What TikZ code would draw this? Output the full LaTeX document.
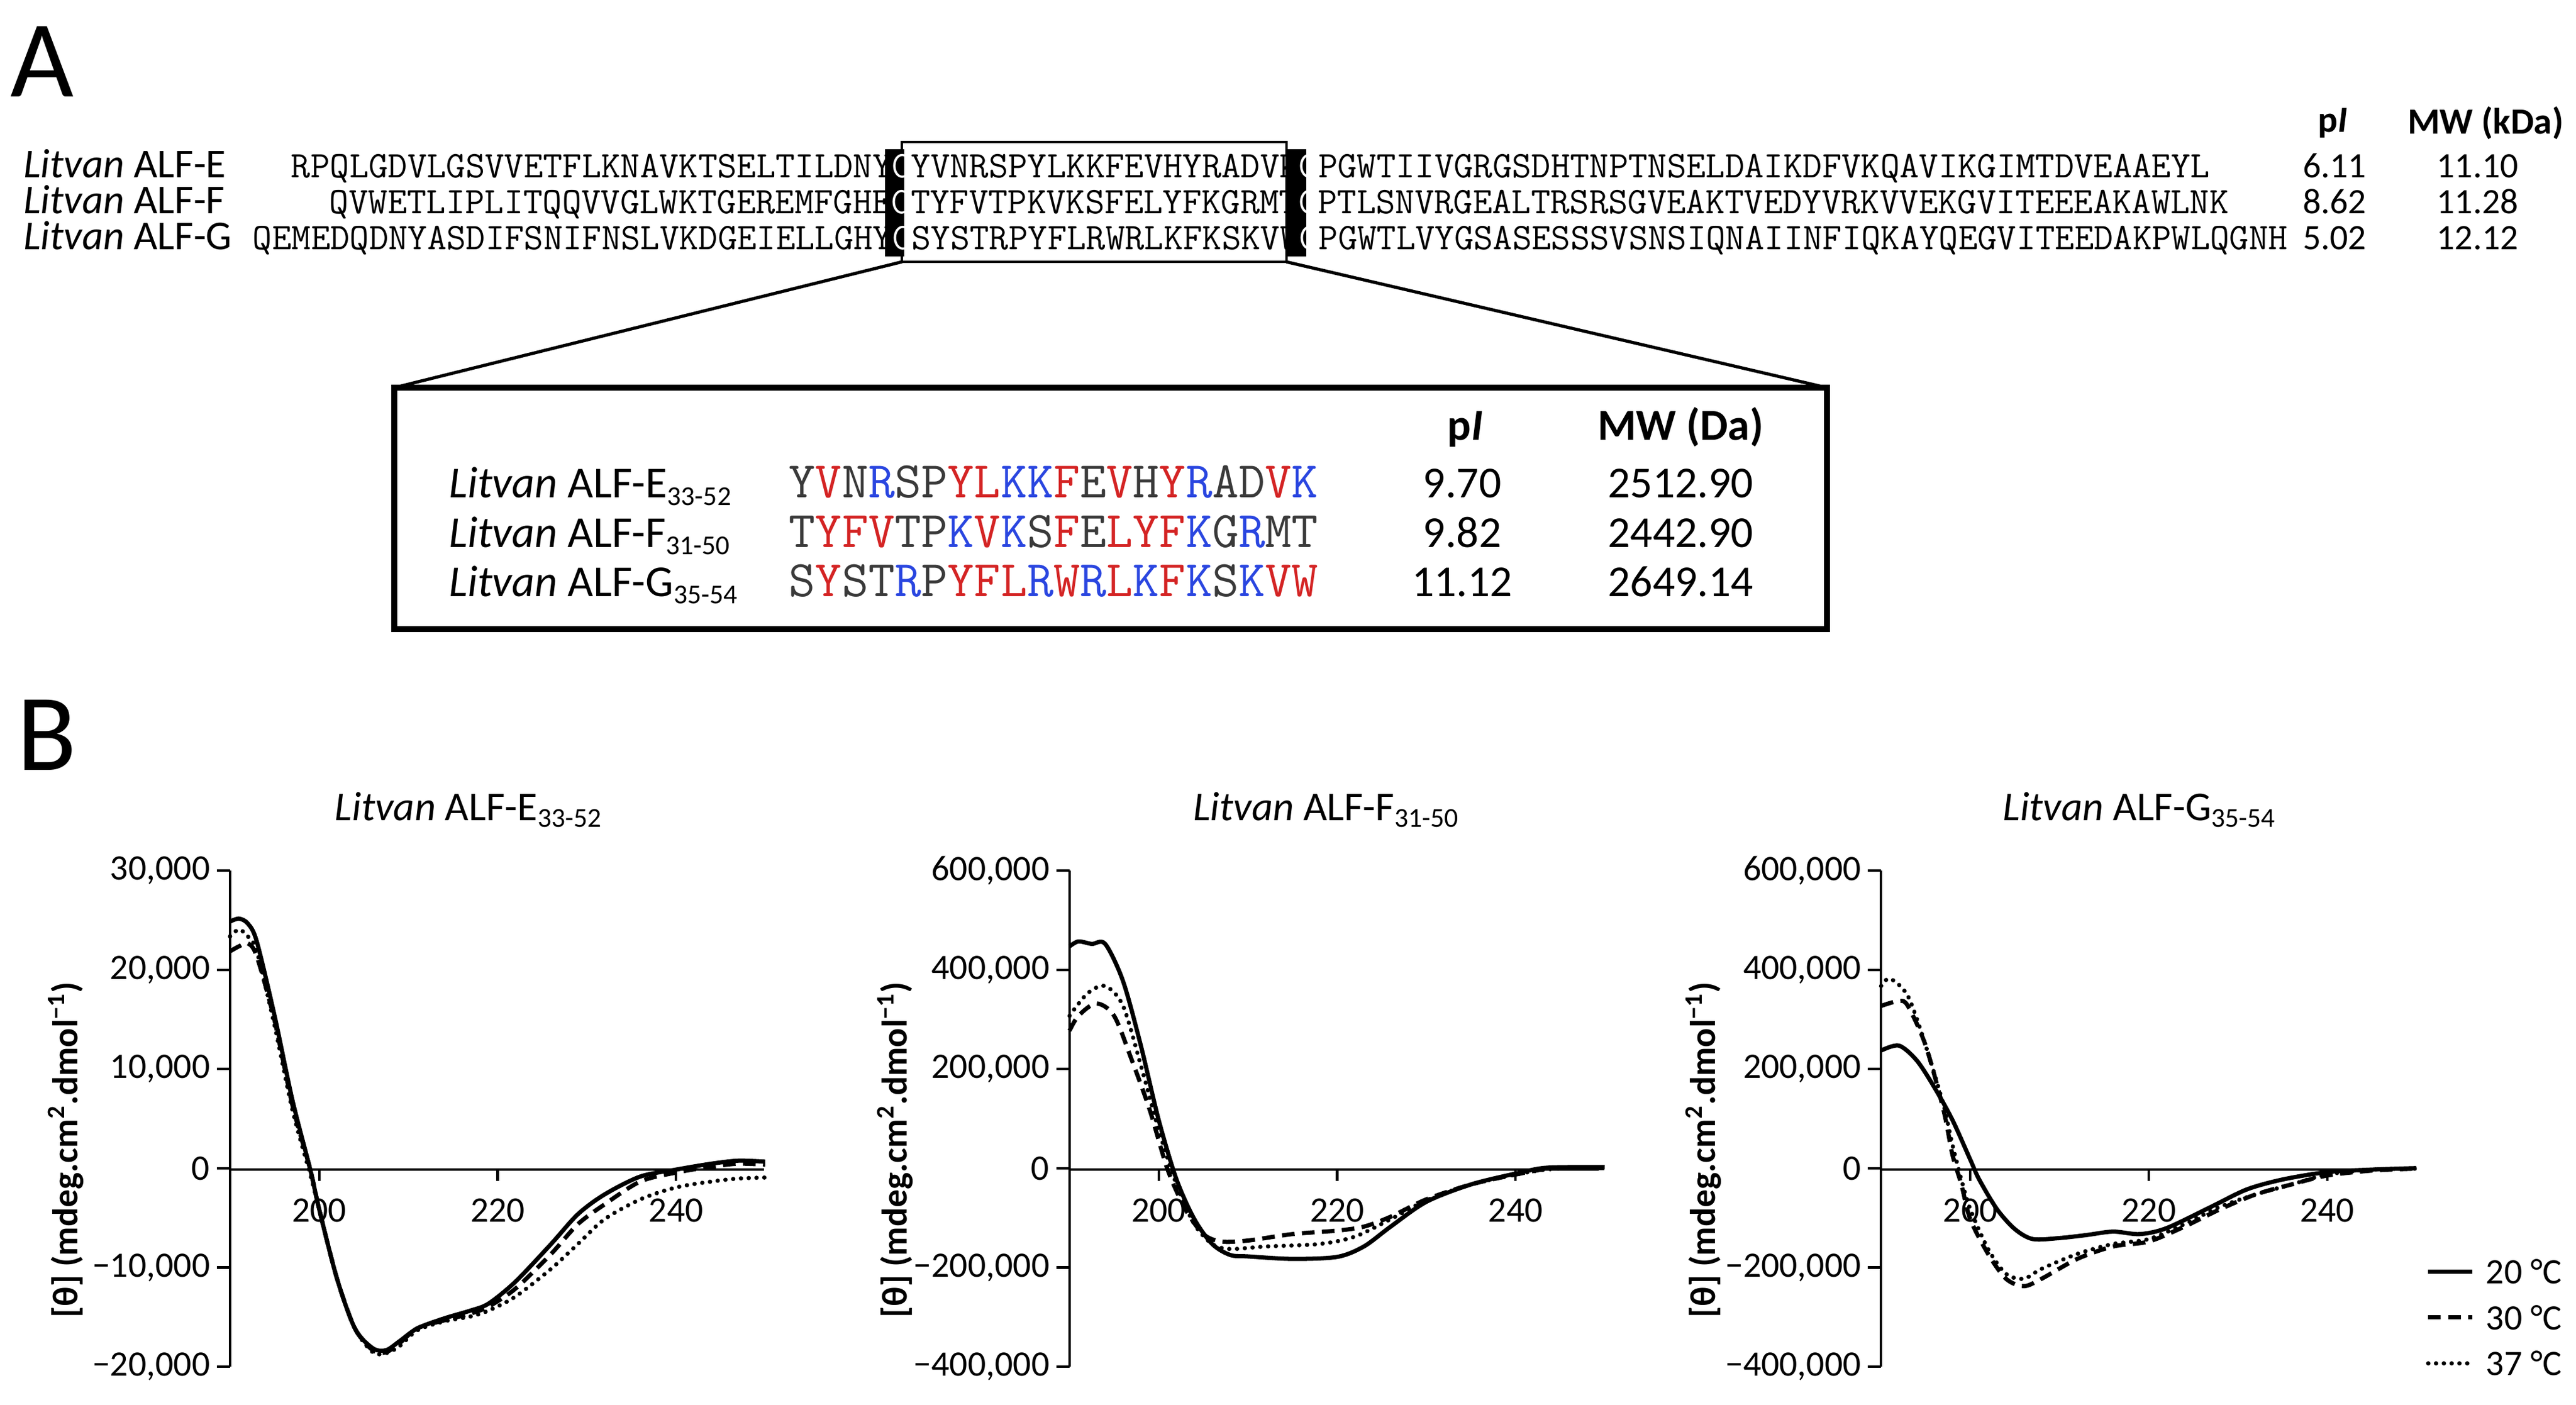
\documentclass[tikz,border=0pt]{standalone}
\usepackage{fontspec}
\setmainfont{Carlito}
\definecolor{sred}{HTML}{D42424}
\definecolor{sblue}{HTML}{2A46E0}
\definecolor{sgrey}{HTML}{3A3A3A}
\newcommand\sbx[2]{\raisebox{-0.35ex}{\fontsize{#1}{#1}\selectfont #2}}
\newcommand\Rd[1]{\textcolor{sred}{#1}}
\newcommand\Bl[1]{\textcolor{sblue}{#1}}
\newcommand\Wc{\textcolor{white}{C}}
\newcommand\ylab{\textbf{[θ] (mdeg.cm\textsuperscript{2}.dmol\textsuperscript{−1})}}
\begin{document}
\begin{tikzpicture}[x=0.027417cm,y=-0.027417cm,
  lbl/.style={inner sep=0,font=\fontsize{17.5}{18}\selectfont},
  seql/.style={inner sep=0,anchor=base west,font=\fontsize{19.5}{20}\selectfont},
  seq/.style={inner sep=0,anchor=base west,font=\ttfamily\fontsize{17.87}{18}\selectfont},
  iseq/.style={inner sep=0,anchor=base west,font=\ttfamily\fontsize{24.4}{25}\selectfont,text=sgrey},
  ilbl/.style={inner sep=0,anchor=base west,font=\fontsize{21}{22}\selectfont},
  ival/.style={inner sep=0,anchor=base,font=\fontsize{21}{22}\selectfont},
  val/.style={inner sep=0,anchor=base,font=\fontsize{17}{18}\selectfont},
  tick/.style={inner sep=0,font=\fontsize{17}{18}\selectfont},
  axisl/.style={line width=1.2pt},
  cs/.style={line width=2pt},
  cd/.style={line width=2pt,dash pattern=on 6pt off 3.5pt},
  ct/.style={line width=2pt,dash pattern=on 0.1pt off 3.6pt,line cap=round},
  ttl/.style={inner sep=0,font=\fontsize{19.5}{20}\selectfont}]
\useasboundingbox (0,0) rectangle (1568,855);
% panel letters
\node[inner sep=0,anchor=north west,font=\fontsize{52}{52}\selectfont] (A) at (6,16) {A};
\node[inner sep=0,anchor=north west,font=\fontsize{52}{52}\selectfont] (B) at (10,426) {B};
% alignment
\draw[fill=white,line width=1pt] (549,86.5) rectangle (783,159.4);
\fill (538.8,91) rectangle (550.5,156);
\fill (783.4,91) rectangle (795.1,156);
\node[seql] (le) at (14,108) {\textit{Litvan} ALF-E};
\node[seql] (lf) at (14,130) {\textit{Litvan} ALF-F};
\node[seql] (lg) at (14,152) {\textit{Litvan} ALF-G};
\node[seq] (se) at (177,108) {RPQLGDVLGSVVETFLKNAVKTSELTILDNY\Wc YVNRSPYLKKFEVHYRADVK\Wc PGWTIIVGRGSDHTNPTNSELDAIKDFVKQAVIKGIMTDVEAAEYL};
\node[seq] (sf) at (200.34,130) {QVWETLIPLITQQVVGLWKTGEREMFGHE\Wc TYFVTPKVKSFELYFKGRMT\Wc PTLSNVRGEALTRSRSGVEAKTVEDYVRKVVEKGVITEEEAKAWLNK};
\node[seq] (sg) at (153.66,152) {QEMEDQDNYASDIFSNIFNSLVKDGEIELLGHY\Wc SYSTRPYFLRWRLKFKSKVW\Wc PGWTLVYGSASESSSVSNSIQNAIINFIQKAYQEGVITEEDAKPWLQGNH};
\node[lbl,font=\bfseries\fontsize{17.5}{18}\selectfont] (hpi) at (1420,75) {p\textit{I}};
\node[lbl,font=\bfseries\fontsize{17.5}{18}\selectfont] (hmw) at (1513,75) {MW (kDa)};
\node[val] at (1421,108) {6.11};
\node[val] at (1508,108) {11.10};
\node[val] at (1421,130) {8.62};
\node[val] at (1508,130) {11.28};
\node[val] at (1421,152) {5.02};
\node[val] at (1508,152) {12.12};
% zoom lines and inset
\coordinate (bl) at (549,159.4);
\coordinate (br) at (783,159.4);
\draw[line width=3pt] (240,236) rectangle (1112,383);
\coordinate (il) at (240,236);
\coordinate (ir) at (1112,236);
\draw[line width=1.5pt] (bl) -- (il);
\draw[line width=1.5pt] (br) -- (ir);
\node[ival,font=\bfseries\fontsize{21}{22}\selectfont] at (892,268) {p\textit{I}};
\node[ival,font=\bfseries\fontsize{21}{22}\selectfont] at (1023,268) {MW (Da)};
\node[ilbl] at (273,303) {\textit{Litvan} ALF-E\sbx{13}{33-52}};
\node[ilbl] at (273,333) {\textit{Litvan} ALF-F\sbx{13}{31-50}};
\node[ilbl] at (273,363) {\textit{Litvan} ALF-G\sbx{13}{35-54}};
\node[iseq] at (480,303) {Y\Rd{V}N\Bl{R}SP\Rd{YL}\Bl{KK}\Rd{F}E\Rd{V}H\Rd{Y}\Bl{R}AD\Rd{V}\Bl{K}};
\node[iseq] at (480,333) {T\Rd{YFV}TP\Bl{K}\Rd{V}\Bl{K}S\Rd{F}E\Rd{LYF}\Bl{K}G\Bl{R}MT};
\node[iseq] at (480,363) {S\Rd{Y}ST\Bl{R}P\Rd{YFL}\Bl{R}\Rd{W}\Bl{R}\Rd{L}\Bl{K}\Rd{F}\Bl{K}S\Bl{K}\Rd{VW}};
\node[ival] at (890,303) {9.70};
\node[ival] at (1023,303) {2512.90};
\node[ival] at (890,333) {9.82};
\node[ival] at (1023,333) {2442.90};
\node[ival] at (890,363) {11.12};
\node[ival] at (1023,363) {2649.14};
% titles
\node[ttl] (t1) at (285,493) {\textit{Litvan} ALF-E\sbx{13}{33-52}};
\node[ttl] (t2) at (807,493) {\textit{Litvan} ALF-F\sbx{13}{31-50}};
\node[ttl] (t3) at (1302,493) {\textit{Litvan} ALF-G\sbx{13}{35-54}};
% axes
\foreach \ax/\xa/\ylx in {140/465/40,651/973/545,1145/1467/1037}{
  \draw[axisl] (\ax,530) -- (\ax,832);
  \draw[axisl] (\ax,712) -- (\xa,712);
  \foreach \yy in {530,590.4,650.8,711.2,771.6,832} \draw[axisl] (\ax,\yy) -- ++(-8,0);
  \foreach \k in {1,3,5} \draw[axisl] (\ax+54.3*\k,712) -- ++(0,7);
  \node[rotate=90,inner sep=0,font=\fontsize{17}{18}\selectfont] at (\ylx,700) {\ylab};
  \node[tick] at (\ax+54.3,737) {200};
  \node[tick] at (\ax+162.9,737) {220};
  \node[tick] at (\ax+271.5,737) {240};
}
\foreach \ax in {140}{
 \node[tick,anchor=east] at (\ax-12,530) {30,000};
 \node[tick,anchor=east] at (\ax-12,590.4) {20,000};
 \node[tick,anchor=east] at (\ax-12,650.8) {10,000};
 \node[tick,anchor=east] at (\ax-12,711.2) {0};
 \node[tick,anchor=east] at (\ax-12,771.6) {−10,000};
 \node[tick,anchor=east] at (\ax-12,832) {−20,000};}
\foreach \ax in {651,1145}{
 \node[tick,anchor=east] at (\ax-12,530) {600,000};
 \node[tick,anchor=east] at (\ax-12,590.4) {400,000};
 \node[tick,anchor=east] at (\ax-12,650.8) {200,000};
 \node[tick,anchor=east] at (\ax-12,711.2) {0};
 \node[tick,anchor=east] at (\ax-12,771.6) {−200,000};
 \node[tick,anchor=east] at (\ax-12,832) {−400,000};}
% plot 1
\begin{scope}[shift={(140,712)}]
\begin{scope}[x=0.14887cm,y=0.1656cm,shift={(-190,0)}]
\draw[cs] plot[smooth,tension=0.5] coordinates {(190,25)(191,25.3)(192,24.8)(193,23)(195,15.5)(197,7)(199,0)(200,-4)(202,-11)(204,-16)(206,-18)(207.5,-18.2)(209,-17.3)(211,-16)(214,-15)(217,-14.2)(219,-13.5)(222,-11.3)(226,-7.5)(229,-4.5)(232,-2.5)(236,-0.7)(240,0)(244,0.6)(247,0.9)(250,0.8)};
\draw[cd] plot[smooth,tension=0.5] coordinates {(190,22)(191,22.5)(192,22.8)(193,21.5)(195,15)(197,6.5)(199,0)(200,-4)(202,-11)(204,-16)(206,-18.2)(207.5,-18.4)(209,-17.5)(211,-16)(214,-15.2)(217,-14.5)(219,-13.8)(222,-12)(226,-8.5)(229,-5.5)(232,-3.5)(236,-1.2)(240,-0.3)(244,0.3)(247,0.6)(250,0.5)};
\draw[ct] plot[smooth,tension=0.5] coordinates {(190,23.5)(191,24.2)(192,23.5)(193,22)(195,14.5)(197,6)(199,-0.5)(200,-4)(202,-11)(204,-16)(206,-18.4)(207.5,-18.5)(209,-17.8)(211,-16.2)(214,-15.3)(217,-14.8)(219,-14.2)(222,-12.8)(226,-10)(229,-7.5)(232,-5)(236,-3)(240,-1.8)(244,-1.2)(247,-0.9)(250,-0.8)};
\end{scope}
\end{scope}
% plot 2
\begin{scope}[shift={(651,712)}]
\begin{scope}[x=0.14887cm,y=0.0828cm,shift={(-190,0)}]
\draw[cs] plot[smooth,tension=0.5] coordinates {(190,45)(191,46)(192.5,45.5)(194,45.5)(196,38)(198,25)(200,10)(202,-2)(204,-10)(206,-15)(208,-17.2)(210,-17.5)(215,-18)(220,-17.6)(223,-15.5)(226,-11.5)(230,-6.5)(235,-3)(240,-0.8)(243,0.3)(246,0.5)(250,0.5)};
\draw[cd] plot[smooth,tension=0.5] coordinates {(190,28)(191,31)(193,33.5)(195,31)(197,22)(199,12)(201,0)(203,-8)(205,-13)(207,-14.5)(210,-14.3)(215,-13)(220,-12.3)(223,-11.5)(226,-9.5)(230,-6)(235,-3)(240,-1)(244,0.2)(250,0.3)};
\draw[ct] plot[smooth,tension=0.5] coordinates {(190,31)(192,35.5)(194,37)(196,33)(198,21)(200,8)(202,-3)(204,-11)(206,-15)(208,-16)(212,-15.5)(218,-15)(222,-13.5)(226,-10)(230,-6.2)(235,-3)(240,-1)(244,0.1)(250,0.3)};
\end{scope}
\end{scope}
% plot 3
\begin{scope}[shift={(1145,712)}]
\begin{scope}[x=0.14887cm,y=0.0828cm,shift={(-190,0)}]
\draw[cs] plot[smooth,tension=0.5] coordinates {(190,24)(192,25)(194,22)(196,16.5)(198,10)(200,2)(201,-2)(203,-8)(205,-12)(207,-14)(210,-13.8)(213,-13.2)(216,-12.5)(219,-13)(222,-11.8)(227,-7.5)(231,-4)(235,-2)(240,-0.5)(245,0)(250,0.3)};
\draw[cd] plot[smooth,tension=0.5] coordinates {(190,33)(192,34)(193,33)(195,25)(197,12)(198,3)(199,-3)(200,-10)(202,-17)(204,-22)(206,-23.5)(208,-22)(212,-18)(216,-15.5)(220,-14.5)(224,-11.5)(228,-8)(232,-5)(236,-3)(240,-1.2)(245,-0.2)(250,0.2)};
\draw[ct] plot[smooth,tension=0.5] coordinates {(190,37)(191,38.5)(193,35)(195,25)(197,13)(198,5)(199,-2)(200,-8)(202,-16)(204,-21)(206,-22)(208,-20)(212,-17)(216,-15)(220,-14)(224,-11)(228,-7.5)(232,-5)(236,-3)(240,-1)(245,0)(250,0.2)};
\end{scope}
\end{scope}
% legend
\coordinate (l1a) at (1478,774); \coordinate (l1b) at (1505,774);
\coordinate (l2a) at (1478,802); \coordinate (l2b) at (1505,802);
\coordinate (l3a) at (1478,830); \coordinate (l3b) at (1505,830);
\draw[cs] (l1a) -- (l1b);
\draw[cd] (l2a) -- (l2b);
\draw[ct] (l3a) -- (l3b);
\node[tick,anchor=west] (g1) at (1513,774) {20 °C};
\node[tick,anchor=west] (g2) at (1513,802) {30 °C};
\node[tick,anchor=west] (g3) at (1513,830) {37 °C};
\end{tikzpicture}
\end{document}
